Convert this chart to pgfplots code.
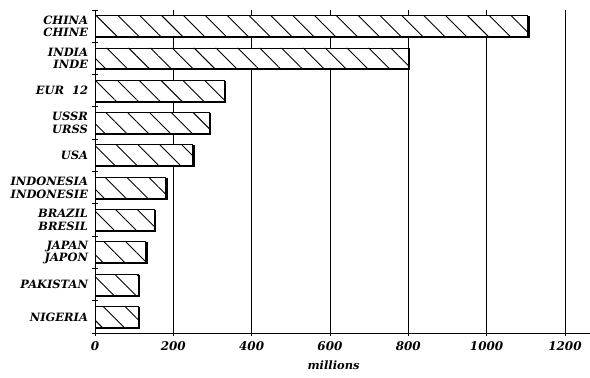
\documentclass[border=0pt]{standalone}
\usepackage{fontspec}
\setmainfont{DejaVu Serif}
\usepackage{pgfplots}
\pgfplotsset{compat=1.18}
\usetikzlibrary{patterns.meta,shadows}
\begin{document}
\begin{tikzpicture}
\begin{axis}[
  scale only axis, width=495bp, height=323bp,
  xbar, xmin=0, xmax=1264, ymin=-0.5, ymax=9.5,
  y dir=reverse,
  axis x line*=bottom, axis y line*=left,
  axis line style={line width=0.8pt},
  xtick={0,200,...,1200},
  xmajorgrids, grid style={black, line width=0.6pt},
  tick align=center,
  major tick length=6pt,
  tick style={black, line width=0.8pt},
  ytick={-0.5,0.5,...,9.5},
  yticklabels={},
  extra y ticks={0,...,9},
  extra y tick labels={{CHINA\\CHINE},{INDIA\\INDE},{EUR\ \ 12},{USSR\\URSS},{USA},{INDONESIA\\INDONESIE},{BRAZIL\\BRESIL},{JAPAN\\JAPON},{PAKISTAN},{NIGERIA}},
  extra y tick style={major tick length=0pt, grid=none},
  yticklabel style={align=right, xshift=-3.5pt, font=\fontsize{11.5}{12.5}\selectfont\bfseries\itshape},
  xticklabel style={yshift=-2pt, font=\fontsize{12}{12}\selectfont\bfseries\itshape},
  /pgf/number format/assume math mode=true,
  /pgf/number format/1000 sep={},
  xlabel={millions},
  xlabel style={at={(axis description cs:0.482,0)}, anchor=north, yshift=-24pt, font=\fontsize{11.5}{12}\selectfont\bfseries\itshape},
  clip=false,
]
\addplot[draw=black, line width=0.9pt, bar width=0.65,
  drop shadow={shadow xshift=1.3pt, shadow yshift=-1.0pt, fill=black, opacity=1},
  preaction={fill=white},
  pattern={Lines[angle=-45, distance=15.5pt, line width=0.9pt]}]
  coordinates {(1105,0) (800,1) (330,2) (291,3) (250,4) (181,5) (151,6) (130,7) (110,8) (110,9)};
\end{axis}
\pgfresetboundingbox
\path (current axis.south west) ++(-95bp,-45bp) coordinate (bl);
\path (current axis.north east) ++(0bp,10bp) coordinate (tr);
\useasboundingbox (bl) rectangle (tr);
\end{tikzpicture}
\end{document}
